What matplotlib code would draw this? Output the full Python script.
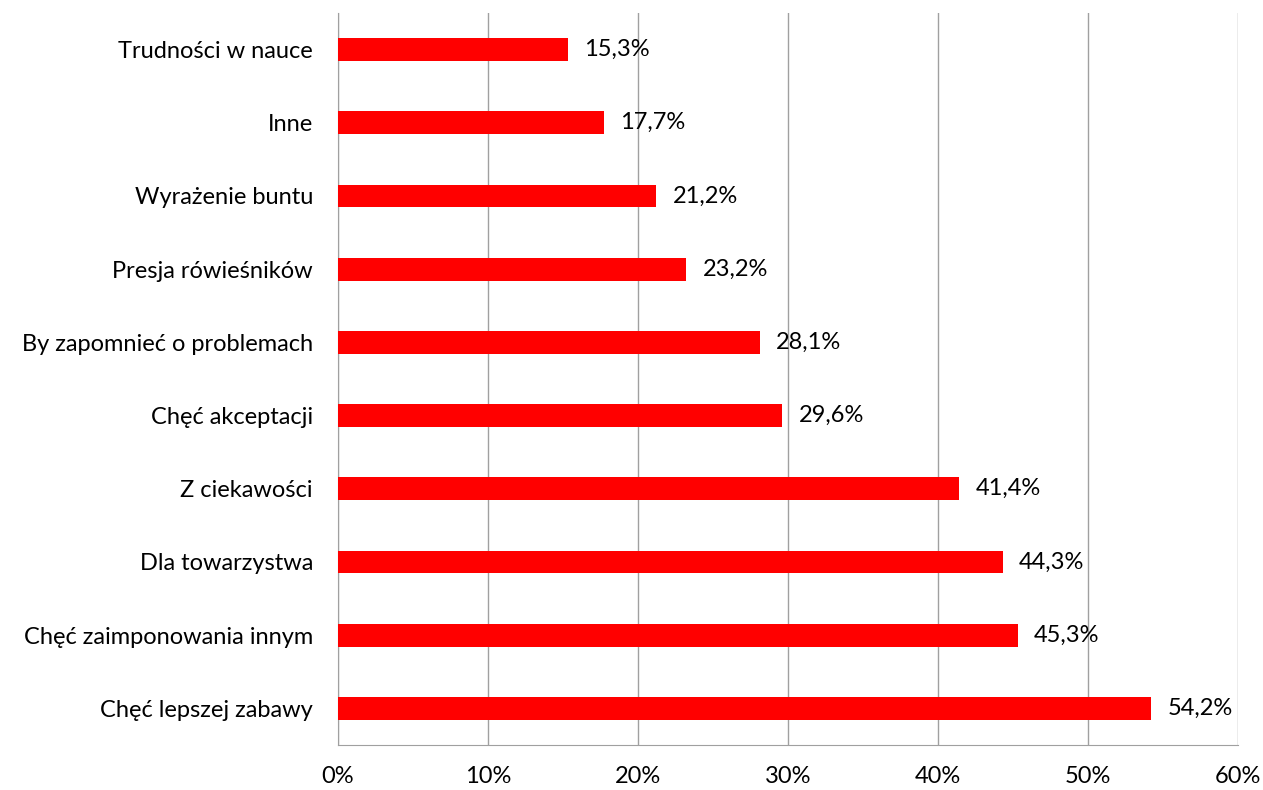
import matplotlib
matplotlib.use("Agg")
import matplotlib.pyplot as plt
import numpy as np

plt.rcParams["font.family"] = ["Lato", "DejaVu Sans"]

categories = ["Trudności w nauce", "Inne", "Wyrażenie buntu", "Presja rówieśników",
              "By zapomnieć o problemach", "Chęć akceptacji", "Z ciekawości",
              "Dla towarzystwa", "Chęć zaimponowania innym", "Chęć lepszej zabawy"]
values = [15.3, 17.7, 21.2, 23.2, 28.1, 29.6, 41.4, 44.3, 45.3, 54.2]
xticks = [0, 10, 20, 30, 40, 50, 60]

fig = plt.figure(figsize=(12.63, 7.9), dpi=100)
ax = fig.add_axes([338/1263, 45/790, 900/1263, 732/790])

y = np.arange(len(categories))[::-1]
ax.barh(y, values, height=0.31, color="#FF0000", zorder=3)
for yi, v in zip(y, values):
    ax.text(v + 1.1, yi, f"{v:.1f}%".replace(".", ","), va="center", ha="left",
            fontsize=17, zorder=4)

ax.set_xlim(0, 60)
ax.set_ylim(-0.5, len(categories) - 0.5)
ax.set_xticks(xticks)
ax.set_xticklabels([f"{t}%" for t in xticks], fontsize=17)
ax.set_yticks(y)
ax.set_yticklabels(categories, fontsize=17)
ax.tick_params(axis="both", length=0)
ax.tick_params(axis="y", pad=18)
ax.tick_params(axis="x", pad=15)
ax.xaxis.grid(True, color="#A0A0A0", lw=1.0, zorder=0)
for s in ["top", "right"]:
    ax.spines[s].set_visible(False)
ax.spines["left"].set_color("#A0A0A0")
ax.spines["bottom"].set_color("#A0A0A0")

fig.savefig("out.png", dpi=100)
